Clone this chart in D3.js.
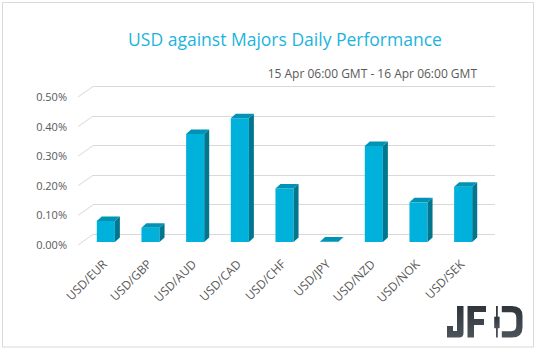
<!DOCTYPE html>
<html>
<head>
<meta charset="utf-8">
<script src="https://cdn.jsdelivr.net/npm/d3@7"></script>
<style>
  body { margin: 0; background: #fff; }
  text { font-family: "Open Sans", "Noto Sans", sans-serif; }
</style>
</head>
<body>
<div id="chart"></div>
<script>
// values, in percent
var categories = ["USD/EUR", "USD/GBP", "USD/AUD", "USD/CAD", "USD/CHF", "USD/JPY", "USD/NZD", "USD/NOK", "USD/SEK"];
var values = [0.071, 0.048, 0.365, 0.418, 0.181, 0.002, 0.324, 0.134, 0.187];
var yTicks = [0, 0.1, 0.2, 0.3, 0.4, 0.5];
var title = "USD against Majors Daily Performance";
var subtitle = "15 Apr 06:00 GMT - 16 Apr 06:00 GMT";

var W = 538, H = 351;

// fake 3D: back wall, then the side wall goes forward/left
var wall = {left: 93, right: 495};
var wallDepth = {dx: -15, dy: 11};   // back wall -> front of side wall
var barShift = {dx: -9.5, dy: 8};    // back wall -> front face of bars
var barDepth = {dx: 5, dy: -4.5};    // front face -> back face of a bar

var yBack = d3.scaleLinear().domain([0, 0.5]).range([234, 86]);
var yFront = yBack.copy().range(yBack.range().map(function(r) { return r + wallDepth.dy; }));
var yBar = yBack.copy().range(yBack.range().map(function(r) { return r + barShift.dy; }));

var x = d3.scaleBand()
          .domain(categories)
          .range([wall.left, wall.right])
          .paddingInner(0.595)
          .paddingOuter(0.2975);

var pct = function(d) { return d3.format(".2f")(d) + "%"; };

var svg = d3.select("#chart").append("svg")
            .attr("width", W)
            .attr("height", H);

svg.append("rect")
   .attr("x", 2.5).attr("y", 2.5)
   .attr("width", 531).attr("height", 344.5)
   .attr("fill", "#fff")
   .attr("stroke", "#d9d9d9");

svg.append("text")
   .attr("x", 285).attr("y", 45.5)
   .attr("text-anchor", "middle")
   .attr("fill", "#1cb4dc")
   .style("font-size", "17.5px")
   .text(title);

svg.append("text")
   .attr("x", 477).attr("y", 78)
   .attr("text-anchor", "end")
   .attr("fill", "#595959")
   .style("font-size", "12px")
   .text(subtitle);

// gridlines on the back wall + the diagonals on the side wall
var grid = svg.append("g").attr("stroke", "#d9d9d9").attr("stroke-width", 1);
grid.selectAll(".back").data(yTicks).enter().append("line")
    .attr("x1", wall.left).attr("x2", wall.right)
    .attr("y1", function(d) { return Math.round(yBack(d)) + 0.5; })
    .attr("y2", function(d) { return Math.round(yBack(d)) + 0.5; });
grid.selectAll(".side").data(yTicks).enter().append("line")
    .attr("x1", wall.left + wallDepth.dx)
    .attr("y1", function(d) { return yBack(d) + wallDepth.dy; })
    .attr("x2", wall.left)
    .attr("y2", function(d) { return yBack(d) + 0.5; });

var yAxis = d3.axisLeft(yFront).tickValues(yTicks).tickFormat(pct).tickSize(0).tickPadding(4);
var yg = svg.append("g")
            .attr("transform", "translate(71,0)")
            .call(yAxis);
yg.select(".domain").remove();
yg.selectAll("text").attr("fill", "#595959").style("font-size", "11px").style("font-family", null);

// bars
var bw = x.bandwidth();
var bar = svg.append("g").selectAll("g")
             .data(categories.map(function(c, i) { return {cat: c, value: values[i]}; }))
             .enter().append("g");

var x0 = function(d) { return x(d.cat) + barShift.dx; };
var poly = function(pts) { return "M" + pts.map(function(p) { return p.join(","); }).join("L") + "Z"; };

bar.append("path")
   .attr("fill", "#00b2db")
   .attr("d", function(d) {
       var l = x0(d), t = yBar(d.value), b = yBar(0);
       return poly([[l, t], [l + bw, t], [l + bw, b], [l, b]]);
   });
bar.append("path")
   .attr("fill", "#00768f")
   .attr("d", function(d) {
       var r = x0(d) + bw, t = yBar(d.value), b = yBar(0);
       return poly([[r, t], [r + barDepth.dx, t + barDepth.dy], [r + barDepth.dx, b + barDepth.dy], [r, b]]);
   });
bar.append("path")
   .attr("fill", "#0093b4")
   .attr("d", function(d) {
       var l = x0(d), t = yBar(d.value);
       return poly([[l, t], [l + bw, t], [l + bw + barDepth.dx, t + barDepth.dy], [l + barDepth.dx, t + barDepth.dy]]);
   });

// category labels, turned 45 degrees
var xAxis = d3.axisBottom(x).tickSize(0);
var xg = svg.append("g")
            .attr("transform", "translate(" + (barShift.dx - 1) + ",262)")
            .call(xAxis);
xg.select(".domain").remove();
xg.selectAll("text")
  .attr("x", 0).attr("y", 0).attr("dy", "0.35em")
  .attr("text-anchor", "end")
  .attr("transform", "rotate(-45)")
  .attr("fill", "#595959")
  .style("font-size", "12px")
  .style("font-family", null);

// JFD logo, bottom right
var defs = svg.append("defs");
var grad = defs.append("linearGradient").attr("id", "logoGrad")
               .attr("x1", 0).attr("y1", 0).attr("x2", 0).attr("y2", 1);
grad.append("stop").attr("offset", "0%").attr("stop-color", "#30353c");
grad.append("stop").attr("offset", "100%").attr("stop-color", "#4d535b");

var logo = svg.append("g").attr("fill", "url(#logoGrad)");
// J
logo.append("path").attr("d", "M457,306H463.5V333Q463.5,337.5 459,337.5H447V326H453V331H457Z");
// F
logo.append("path").attr("d", "M467.5,306H486V312H474V319H484V325H474V337.5H467.5Z");
// D: candle + bowl
logo.append("rect").attr("x", 496).attr("y", 306).attr("width", 1.8).attr("height", 31.5);
logo.append("rect").attr("x", 494.2).attr("y", 316.7).attr("width", 5.4).attr("height", 11.5);
logo.append("path").attr("d", "M501.8,306H512Q522.5,306 522.5,316V327.5Q522.5,337.5 512,337.5H501.8V331.2H511Q516.3,331.2 516.3,326V317.5Q516.3,312.3 511,312.3H501.8Z");
</script>
</body>
</html>
